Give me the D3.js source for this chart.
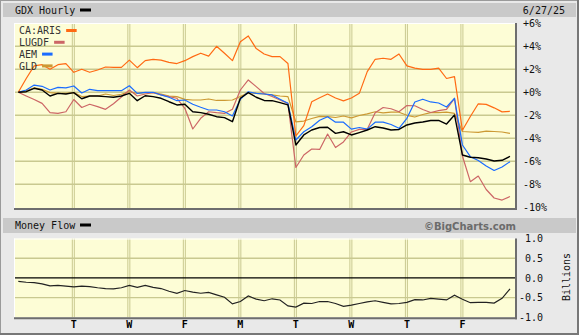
<!DOCTYPE html>
<html><head><meta charset="utf-8">
<script src="https://cdn.jsdelivr.net/npm/d3@7"></script>
<style>html,body{margin:0;padding:0;background:#e9e9e9;}svg{display:block}</style>
</head><body><svg id="c" width="579" height="335"></svg>
<script>
// ---- data ----
const dayTicks = ["", "T", "W", "F", "M", "T", "W", "T", "F"];
const hours = ["09:30","10:30","11:30","12:30","13:30","14:30","15:30"];
const pctTicks = [6, 4, 2, 0, -2, -4, -6, -8, -10];
const flowTicks = [1, 0.5, 0, -0.5, -1];
const seriesNames = ["CA:ARIS", "LUGDF", "AEM", "GLD"];
const GDX = [0,0.05,0.35,0.2,-0.32,-0.09,-0.15, -0.03,-0.56,-0.32,-0.32,-0.38,-0.43,-0.32, -0.09,-0.73,-0.3,-0.38,-0.52,-0.82,-1.1, -1.04,-1.69,-1.77,-1.91,-2.12,-2.2,-2.56, -0.52,-0.03,-0.43,-0.71,-0.73,-0.9,-1.1, -4.58,-3.71,-3.28,-3.06,-3.04,-3.57,-3.43, -3.71,-3.5,-3.28,-2.99,-3.1,-3.28,-3.23, -2.84,-2.67,-2.58,-2.45,-2.45,-2.76,-1.97, -5.45,-5.65,-5.69,-5.8,-5.97,-5.91,-5.57];
const ARIS = [0,1.2,2.3,2.4,2.0,2.4,2.5, 1.74,2.0,1.74,1.94,2.2,2.17,2.17, 2.8,2.14,2.75,2.87,2.8,2.6,2.5, 2.75,3.1,3.4,3.15,4.0,3.4,2.75, 4.4,4.9,3.8,3.33,3.1,3.1,2.5, -3.8,-2.9,-0.82,-0.47,-0.15,-0.5,-0.75, -0.5,-0.09,1.8,2.87,2.96,2.87,3.33, 2.3,2.1,2.0,2.0,2.1,1.2,1.36, -3.3,-2.1,-1.0,-1.05,-1.35,-1.7,-1.65];
const LUGDF = [0,-0.32,-0.63,-0.96,-1.77,-1.83,-1.69, -0.63,-1.32,-1.04,-1.25,-1.48,-1.0,-0.41, 0.2,-0.32,-0.15,-0.03,-0.23,-0.38,-0.52, -1.39,-3.19,-2.26,-1.69,-1.77,-1.83,-1.48, 0.2,1.07,0.49,-0.1,-0.37,-0.67,-0.96, -6.54,-5.45,-4.93,-4.97,-3.63,-4.8,-4.32, -3.45,-3.22,-3.22,-1.77,-1.32,-1.43,-1.69, -1.15,-1.17,-1.5,-1.76,-1.6,-1.48,-0.52, -5.54,-7.77,-7.28,-8.45,-9.19,-9.37,-9.06];
const AEM = [0,0.2,0.63,0.52,0.2,0.43,0.39, 0.55,-0.06,0.26,0.14,0.14,0.14,0.14, 0.57,-0.09,0,0,-0.23,-0.43,-0.73, -0.67,-1.04,-1.3,-1.54,-1.54,-1.69,-2.06, -0.6,0.05,-0.09,-0.15,-0.23,-0.6,-0.96, -4.15,-3.43,-3.0,-2.43,-2.12,-2.6,-2.6, -3.2,-3.06,-3.2,-2.6,-2.6,-2.8,-3.13, -2.26,-0.84,-0.6,-0.84,-0.93,-1.28,-0.52, -4.58,-5.6,-5.93,-6.4,-6.8,-6.5,-6.03];
const GLD = [0,0.14,0.39,0.26,-0.03,-0.09,-0.09, -0.03,-0.37,-0.32,-0.32,-0.15,-0.28,-0.17, 0.05,-0.09,-0.03,-0.03,-0.15,-0.32,-0.38, -0.61,-0.67,-0.67,-0.58,-0.71,-0.71,-0.67, -0.37,-0.03,-0.09,-0.15,-0.23,-0.32,-0.37, -2.58,-2.5,-2.28,-2.1,-2.12,-2.19,-2.06, -2.23,-2.02,-1.87,-1.69,-1.79,-1.73,-1.73, -2.0,-2.15,-1.93,-1.77,-1.76,-1.73,-1.84, -3.41,-3.45,-3.48,-3.38,-3.41,-3.45,-3.57];
const MONEYFLOW = [-0.09,-0.11,-0.12,-0.15,-0.2,-0.19,-0.21, -0.23,-0.21,-0.22,-0.25,-0.27,-0.28,-0.25, -0.19,-0.24,-0.19,-0.24,-0.27,-0.34,-0.39, -0.32,-0.36,-0.39,-0.37,-0.43,-0.49,-0.66, -0.6,-0.46,-0.54,-0.58,-0.53,-0.56,-0.71, -0.74,-0.64,-0.65,-0.6,-0.6,-0.65,-0.72, -0.69,-0.65,-0.61,-0.58,-0.62,-0.66,-0.65, -0.62,-0.55,-0.56,-0.52,-0.54,-0.56,-0.44, -0.54,-0.63,-0.62,-0.62,-0.64,-0.52,-0.28];

// categories: day x hour
const cats = [];
dayTicks.forEach((d, di) => hours.forEach(h => cats.push(di + " " + h)));

// ---- layout ----
const svg = d3.select("#c");
const MONO = "'DejaVu Sans Mono', 'Liberation Mono', monospace";
const P = {l: 14, r: 515, t: 23, b: 208};
const L = {l: 14, r: 515, t: 238.5, b: 317.3};
const x = d3.scalePoint().domain(cats).range([18.3, 510]);
const y = d3.scaleLinear().domain([-10, 6]).range([207.3, 23.3]);
const y2 = d3.scaleLinear().domain([-1, 1]).range([L.b, L.t]);
const grid = "#c9c990";
const yellow = "#fdfdd6";

// background + frame
svg.append("rect").attr("x", 0).attr("y", 0).attr("width", 579).attr("height", 335).attr("fill", "#e9e9e9");
svg.append("rect").attr("x", 0.5).attr("y", 0.5).attr("width", 577).attr("height", 333)
  .attr("fill", "none").attr("stroke", "#9a9a9a").attr("stroke-width", 1);
svg.append("line").attr("x1", 578).attr("x2", 578).attr("y1", 0).attr("y2", 335).attr("stroke", "#777").attr("stroke-width", 2);
svg.append("line").attr("x1", 0).attr("x2", 579).attr("y1", 334).attr("y2", 334).attr("stroke", "#777").attr("stroke-width", 2);

// header bands
function band(y0, h) {
  svg.append("rect").attr("x", 3).attr("y", y0).attr("width", 573).attr("height", h).attr("fill", "#c9c9c9");
}
band(3, 14);
band(218, 15);

svg.append("text").attr("x", 15).attr("y", 14).attr("font-family", MONO).attr("font-size", 10)
  .attr("fill", "#111").text("GDX Hourly");
svg.append("rect").attr("x", 80).attr("y", 8.5).attr("width", 11).attr("height", 3).attr("fill", "#000");
svg.append("text").attr("x", 565).attr("y", 14).attr("text-anchor", "end").attr("font-family", MONO).attr("font-size", 10)
  .attr("fill", "#111").text("6/27/25");

svg.append("text").attr("x", 15).attr("y", 229).attr("font-family", MONO).attr("font-size", 10)
  .attr("fill", "#111").text("Money Flow");
svg.append("rect").attr("x", 80).attr("y", 223.5).attr("width", 11).attr("height", 3).attr("fill", "#000");
svg.append("text").attr("x", 516).attr("y", 229.5).attr("text-anchor", "end").attr("font-family", "'DejaVu Sans', Verdana, sans-serif")
  .attr("font-weight", "bold").attr("font-size", 10).attr("fill", "#6b6b6b").text("\u00A9BigCharts.com");

// plot areas
function plotBox(B) {
  svg.append("rect").attr("x", B.l).attr("y", B.t).attr("width", B.r - B.l).attr("height", B.b - B.t).attr("fill", yellow);
}
plotBox(P); plotBox(L);

const dayX = d => x(d + " " + hours[0]) - 0.5;

// main grid
const gMain = svg.append("g");
pctTicks.filter(v => v < 6 && v > -10).forEach(v => {
  gMain.append("line").attr("x1", P.l).attr("x2", P.r).attr("y1", y(v)).attr("y2", y(v))
    .attr("stroke", grid).attr("stroke-width", 1.4);
});
d3.range(1, dayTicks.length).forEach(d => {
  [-1, 1].forEach(o => gMain.append("line").attr("x1", dayX(d) + o).attr("x2", dayX(d) + o)
    .attr("y1", P.t).attr("y2", P.b).attr("stroke", grid).attr("stroke-width", 1));
});

// lower grid
const gLow = svg.append("g");
[0.5, -0.5].forEach(v => gLow.append("line").attr("x1", L.l).attr("x2", L.r).attr("y1", y2(v)).attr("y2", y2(v))
  .attr("stroke", grid).attr("stroke-width", 1.4));
d3.range(1, dayTicks.length).forEach(d => {
  [-1, 1].forEach(o => gLow.append("line").attr("x1", dayX(d) + o).attr("x2", dayX(d) + o)
    .attr("y1", L.t).attr("y2", L.b).attr("stroke", grid).attr("stroke-width", 1));
});
gLow.append("line").attr("x1", L.l).attr("x2", L.r).attr("y1", y2(0)).attr("y2", y2(0)).attr("stroke", "#000").attr("stroke-width", 1.2);

// plot edges (inset look)
function edges(B) {
  svg.append("line").attr("x1", B.l).attr("x2", B.r).attr("y1", B.t + 0.5).attr("y2", B.t + 0.5).attr("stroke", "#fff").attr("stroke-width", 1);
  svg.append("line").attr("x1", B.l + 0.5).attr("x2", B.l + 0.5).attr("y1", B.t).attr("y2", B.b).attr("stroke", "#fff").attr("stroke-width", 1);
  svg.append("line").attr("x1", B.l).attr("x2", B.r + 2).attr("y1", B.b + 1).attr("y2", B.b + 1).attr("stroke", "#6e6e6e").attr("stroke-width", 2);
  svg.append("line").attr("x1", B.r + 1).attr("x2", B.r + 1).attr("y1", B.t).attr("y2", B.b + 2).attr("stroke", "#6e6e6e").attr("stroke-width", 2);
}
edges(P); edges(L);

// lines
const line = d3.line().x((d, i) => x(cats[i])).y(d => y(d));
const series = [
  {name: "GLD", data: GLD, color: "#cc9933", w: 1.2},
  {name: "LUGDF", data: LUGDF, color: "#cc6666", w: 1.2},
  {name: "AEM", data: AEM, color: "#1a6cff", w: 1.2},
  {name: "CA:ARIS", data: ARIS, color: "#ff6a13", w: 1.2},
  {name: "GDX", data: GDX, color: "#000000", w: 1.4}
];
series.forEach(s => svg.append("path").datum(s.data).attr("d", line).attr("fill", "none")
  .attr("stroke", s.color).attr("stroke-width", s.w).attr("stroke-linejoin", "round"));

const line2 = d3.line().x((d, i) => x(cats[i])).y(d => y2(d));
svg.append("path").datum(MONEYFLOW).attr("d", line2).attr("fill", "none").attr("stroke", "#222").attr("stroke-width", 1.2);

// legend
const colorOf = Object.fromEntries(series.map(s => [s.name, s.color]));
seriesNames.forEach((n, i) => {
  const ty = 30.5 + i * 11.8;
  const t = svg.append("text").attr("x", 19).attr("y", ty + 3.8).attr("font-family", MONO).attr("font-size", 10)
    .attr("fill", "#333").text(n);
  const w = t.node().getComputedTextLength();
  svg.append("rect").attr("x", 19 + w + 5).attr("y", ty - 1.5).attr("width", 10.5).attr("height", 3).attr("fill", colorOf[n]);
});

// right axes
const ax = svg.append("g").attr("transform", `translate(${P.r},0)`)
  .call(d3.axisRight(y).tickValues(pctTicks).tickSize(0).tickPadding(8)
    .tickFormat(d => (d >= 0 ? "+" : "-") + Math.abs(d) + "%"));
ax.select(".domain").remove();
ax.selectAll("text").attr("font-family", MONO).attr("font-size", 10).attr("fill", "#111");

const ax2 = svg.append("g").attr("transform", `translate(${L.r},0)`)
  .call(d3.axisRight(y2).tickValues(flowTicks).tickSize(0).tickPadding(10)
    .tickFormat(d => (d < 0 ? "-" : "") + Math.abs(d).toFixed(1)));
ax2.select(".domain").remove();
ax2.selectAll("text").attr("font-family", MONO).attr("font-size", 10).attr("fill", "#111")
  .attr("x", d => d < 0 ? 4 : 10);

svg.append("text").attr("transform", "translate(570,277) rotate(-90)").attr("text-anchor", "middle")
  .attr("font-family", MONO).attr("font-size", 10).attr("fill", "#111").text("Billions");

// day labels
const ax3 = svg.append("g").attr("transform", `translate(0,${L.b})`)
  .call(d3.axisBottom(d3.scaleOrdinal().domain(d3.range(1, dayTicks.length)).range(d3.range(1, dayTicks.length).map(dayX)))
    .tickSize(0).tickPadding(4).tickFormat(d => dayTicks[d]));
ax3.select(".domain").remove();
ax3.selectAll("text").attr("font-family", MONO).attr("font-size", 10).attr("font-weight", "bold").attr("fill", "#000");
</script></body></html>
